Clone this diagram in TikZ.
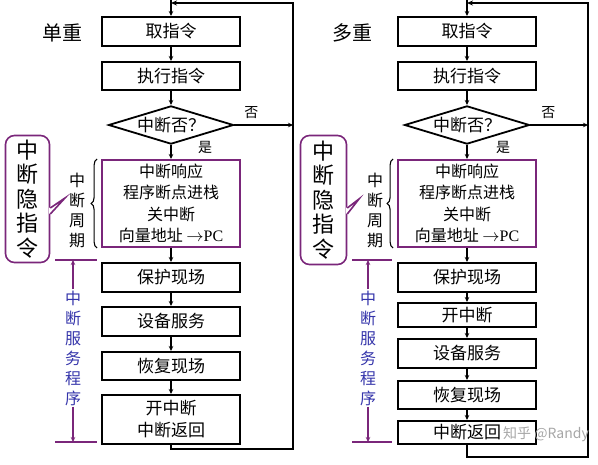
\documentclass[tikz,border=0pt]{standalone}
\usepackage{fontspec}
\setmainfont{Liberation Serif}
\newfontfamily\cjk{Noto Sans CJK SC}
\usetikzlibrary{arrows.meta, positioning, calc, shapes.geometric, decorations.pathreplacing}
\definecolor{intpurple}{RGB}{122,38,122}
\definecolor{svcblue}{RGB}{52,52,170}

\begin{document}
\begin{tikzpicture}[
    x=1pt, y=-1pt,
    % Node styles (sizes are outer sizes, border included)
    proc/.style={
        rectangle, draw=black, line width=1.8pt, minimum width=138pt,
        minimum height=#1, inner sep=1pt, align=center,
        font=\cjk\fontsize{17}{22}\selectfont
    },
    proc/.default=29.2pt,
    decide/.style={
        diamond, draw=black, line width=1.8pt, aspect=3.2, inner sep=0pt,
        minimum width=125pt, minimum height=38.2pt,
        font=\cjk\fontsize{17}{20}\selectfont
    },
    intcyc/.style={
        rectangle, draw=intpurple, line width=1.8pt, minimum width=138pt,
        minimum height=87.2pt, inner sep=1pt, align=center,
        font=\cjk\fontsize{16}{21.5}\selectfont
    },
    callout/.style={
        rectangle, rounded corners=9pt, draw=intpurple, line width=1.6pt,
        fill=white, minimum width=44pt, minimum height=127pt, inner sep=1pt,
        align=center, font=\cjk\fontsize{22}{24.5}\selectfont
    },
    vlabel/.style={align=center, inner sep=1pt, font=\cjk\fontsize{16}{20}\selectfont},
    svc/.style={vlabel, text=svcblue},
    title/.style={font=\cjk\fontsize{20}{24}\selectfont},
    yn/.style={font=\cjk\fontsize{14}{16}\selectfont},
    wmark/.style={font=\cjk\fontsize{14}{17}\selectfont, text=black!35, inner sep=0pt},
    arr/.style={-{Stealth[length=5pt, width=4.5pt]}, line width=1.3pt, color=black},
    loopline/.style={-{Stealth[length=6pt, width=5pt]}, line width=2.4pt, color=black},
    brace/.style={decorate, decoration={brace, amplitude=6pt}, line width=1.1pt},
    purpline/.style={line width=1.6pt, color=intpurple},
    purparr/.style={-{Stealth[length=5pt, width=4.5pt]}, line width=1.6pt, color=intpurple},
]
\useasboundingbox (0,0) rectangle (598,464);

% ═══════════════════════════════════════════════════════════════
% Left: single interrupt (单重)
% ═══════════════════════════════════════════════════════════════

\node[proc] (L1) at (171,31.5) {取指令};
\node[proc=28.2pt, below=14pt of L1] (L2) {执行指令};
\node[decide, below=14pt of L2] (L3) {中断否？};
\node[intcyc, below=14pt of L3] (L4) {
    中断响应\\程序断点进栈\\关中断\\向量地址 $\rightarrow$\rmfamily PC
};
\node[proc, below=14pt of L4] (L5) {保护现场};
\node[proc, below=13pt of L5] (L6) {设备服务};
\node[proc=28.2pt, below=14pt of L6] (L7) {恢复现场};
\node[proc=49.2pt, below=13pt of L7] (L8) {开中断\\中断返回};

% Arrows (flow)
\draw[arr] (L1) -- (L2);
\draw[arr] (L2) -- (L3);
\draw[arr] (L3) -- (L4);
\draw[arr] (L4) -- (L5);
\draw[arr] (L5) -- (L6);
\draw[arr] (L6) -- (L7);
\draw[arr] (L7) -- (L8);

% Return loop
\coordinate (Ltop) at (171,0);
\coordinate (Lright) at (293,3);
\draw[arr, line width=2pt] (Ltop) -- (L1);
\draw[loopline] (L8.south) -- ++(0,4) -| (Lright) -- (Ltop |- Lright);
\draw[arr] (L3.east) -- (L3.east -| Lright);

\node[yn] at ($(L3.east)+(17,-12)$) {否};
\node[yn] at ($(L3.south)+(34,2)$) {是};
\node[title] at (62,33) {单重};

% Hidden instruction callout
\node[callout] (LH) at (27.5,199) {中\\断\\隐\\指\\令};
\coordinate (LHtip) at (65,198);
\fill[white] ($(LH.east)+(-1.2,9)$) -- (LHtip) -- ($(LH.east)+(-1.2,15)$) -- cycle;
\draw[purpline] ($(LH.east)+(0,9)$) -- (LHtip) -- ($(LH.east)+(0,15)$);

% Interrupt cycle brace
\node[vlabel] (LC) at (77,210) {中\\断\\周\\期};
\draw[brace] ([xshift=-4pt]L4.south west) -- ([xshift=-4pt]L4.north west);

% Service routine span
\coordinate (LsA) at (55,260);
\coordinate (LsB) at (55,442);
\draw[purpline] (LsA) -- ++(42,0);
\draw[purpline] (LsB) -- ++(42,0);
\node[svc] (LS) at (73,348) {中\\断\\服\\务\\程\\序};
\draw[purparr] (LS.north) -- (LS.north |- LsA);
\draw[purparr] (LS.south) -- (LS.south |- LsB);

% ═══════════════════════════════════════════════════════════════
% Right: nested interrupt (多重)
% ═══════════════════════════════════════════════════════════════

\node[proc] (R1) at (467,31.5) {取指令};
\node[proc=28.2pt, below=14pt of R1] (R2) {执行指令};
\node[decide, below=14pt of R2] (R3) {中断否？};
\node[intcyc, below=14pt of R3] (R4) {
    中断响应\\程序断点进栈\\关中断\\向量地址 $\rightarrow$\rmfamily PC
};
\node[proc, below=14pt of R4] (R5) {保护现场};
\node[proc=24.2pt, below=9pt of R5] (R6) {开中断};
\node[proc=29.2pt, below=10pt of R6] (R7) {设备服务};
\node[proc=28.2pt, below=11pt of R7] (R8) {恢复现场};
\node[proc=23.2pt, below=10pt of R8] (R9) {中断返回};

% Arrows (flow)
\draw[arr] (R1) -- (R2);
\draw[arr] (R2) -- (R3);
\draw[arr] (R3) -- (R4);
\draw[arr] (R4) -- (R5);
\draw[arr] (R5) -- (R6);
\draw[arr] (R6) -- (R7);
\draw[arr] (R7) -- (R8);
\draw[arr] (R8) -- (R9);

% Return loop
\coordinate (Rtop) at (467,0);
\coordinate (Rright) at (588,3);
\draw[arr, line width=2pt] (Rtop) -- (R1);
\draw[loopline] (R9.south) -- ++(0,12) -| (Rright) -- (Rtop |- Rright);
\draw[arr] (R3.east) -- (R3.east -| Rright);

\node[yn] at ($(R3.east)+(18,-12)$) {否};
\node[yn] at ($(R3.south)+(36,2)$) {是};
\node[title] at (352,33) {多重};

% Hidden instruction callout
\node[callout, minimum width=46pt, minimum height=129pt] (RH) at (323.5,200) {中\\断\\隐\\指\\令};
\coordinate (RHtip) at (359,199);
\fill[white] ($(RH.east)+(-1.2,8)$) -- (RHtip) -- ($(RH.east)+(-1.2,14)$) -- cycle;
\draw[purpline] ($(RH.east)+(0,8)$) -- (RHtip) -- ($(RH.east)+(0,14)$);

% Interrupt cycle brace
\node[vlabel] (RC) at (375,210) {中\\断\\周\\期};
\draw[brace] ([xshift=-4pt]R4.south west) -- ([xshift=-4pt]R4.north west);

% Service routine span
\coordinate (RsA) at (352,260);
\coordinate (RsB) at (352,442);
\draw[purpline] (RsA) -- ++(40,0);
\draw[purpline] (RsB) -- ++(40,0);
\node[svc] (RS) at (368,348) {中\\断\\服\\务\\程\\序};
\draw[purparr] (RS.north) -- (RS.north |- RsA);
\draw[purparr] (RS.south) -- (RS.south |- RsB);

% Watermark
\node[wmark] (WM) at (546,434) {知乎 @Randy};

\end{tikzpicture}
\end{document}
